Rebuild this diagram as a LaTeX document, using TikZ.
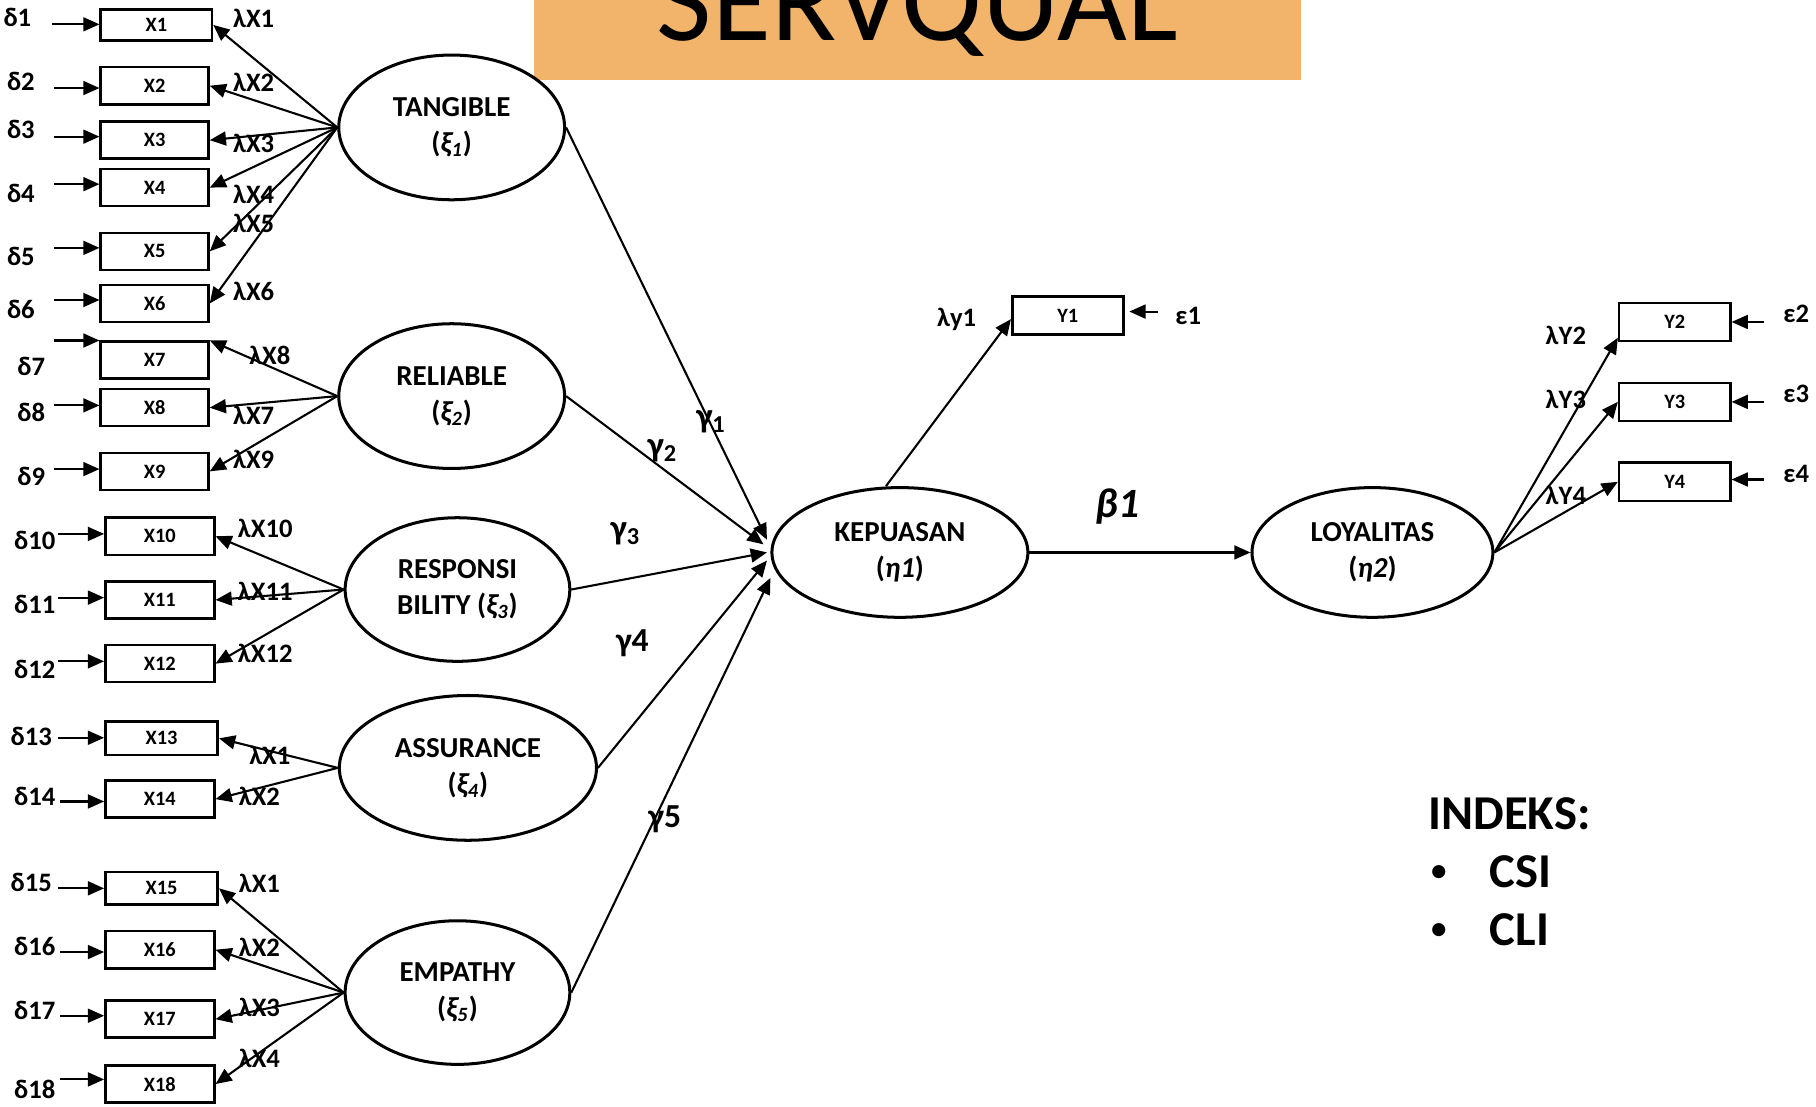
\documentclass[tikz,border=0pt]{standalone}
\usepackage{fontspec}
\setmainfont{Carlito}
\usetikzlibrary{shapes.geometric,arrows.meta,calc}
\definecolor{banner}{RGB}{242,180,107}

\begin{document}
\begin{tikzpicture}[x=0.5pt,y=-0.5pt,
  obs/.style={draw,line width=1.1pt,minimum width=46.5pt,minimum height=16pt,inner sep=0pt,
              font=\fontsize{8.8}{9}\selectfont\bfseries},
  lat/.style={draw,ellipse,line width=1.3pt,inner sep=0pt,align=center,
              font=\fontsize{12.5}{15.5}\selectfont\bfseries},
  arr/.style={line width=0.9pt,-{Triangle[length=7pt,width=6pt]}},
  lbl/.style={inner sep=0pt,font=\fontsize{11.5}{13}\selectfont\bfseries},
  gam/.style={inner sep=0pt,font=\fontsize{15}{17}\selectfont\bfseries},
  gamb/.style={inner sep=0pt,font=\fontsize{14.5}{16}\selectfont\bfseries},
  idx/.style={inner sep=0pt,anchor=base west,font=\fontsize{21}{24}\selectfont\bfseries},
]
\useasboundingbox (0,0) rectangle (1568,955);
\clip (0,0) rectangle (1568,955);

% title banner
\fill[banner] (461,0) rectangle (1123,69);
\node[anchor=base,inner sep=0pt,font=\fontsize{52}{60}\selectfont] (title) at (792,35) {SERVQUAL};

% latent variables
\node[lat,minimum width=97.5pt,minimum height=62.5pt] (tang) at (390,110) {TANGIBLE\\({\itshape ξ\textsubscript{1}})};
\node[lat,minimum width=97.5pt,minimum height=62.5pt] (rel) at (390,342) {RELIABLE\\({\itshape ξ\textsubscript{2}})};
\node[lat,minimum width=97pt,minimum height=62pt] (resp) at (395,509) {RESPONSI\\BILITY ({\itshape ξ\textsubscript{3}})};
\node[lat,minimum width=111pt,minimum height=62.5pt] (assur) at (404,663) {ASSURANCE\\({\itshape ξ\textsubscript{4}})};
\node[lat,minimum width=97pt,minimum height=62pt] (emp) at (395,857) {EMPATHY\\({\itshape ξ\textsubscript{5}})};
\node[lat,minimum width=110.5pt,minimum height=56pt] (kep) at (777,477) {KEPUASAN\\({\itshape η1})};
\node[lat,minimum width=104pt,minimum height=56pt] (loy) at (1185,477) {LOYALITAS\\({\itshape η2})};

% indicators X
\node[obs,minimum width=48pt,minimum height=13.5pt] (x1) at (135,21.5) {X1};
\foreach \n/\y in {2/74,3/121,4/162,5/217,6/262,7/311,8/352,9/407}
  \node[obs] (x\n) at (133.5,\y) {X\n};
\foreach \n/\y in {10/463,11/518,12/573,14/690,16/820,17/880,18/936}
  \node[obs,minimum width=47pt] (x\n) at (138,\y) {X\n};
\node[obs,minimum width=48.5pt,minimum height=14.5pt] (x13) at (139.5,637.5) {X13};
\node[obs,minimum width=48.5pt,minimum height=14pt] (x15) at (139.5,767) {X15};

% indicators Y
\node[obs,minimum width=48pt,minimum height=16.5pt] (y1) at (922,272.5) {Y1};
\foreach \n/\y in {2/278,3/347,4/416}
  \node[obs,minimum width=48pt,minimum height=16.5pt] (y\n) at (1446,\y) {Y\n};

% measurement errors delta
\foreach \n/\lx/\ly/\ax/\ay in {1/15/15/45/21,2/18/70/47/76,3/18/112/47/118,4/18/167/47/159,
    5/18/221/47/214,6/18/267/47/259,7/27/316/47/294,8/27/356/47/350,9/27/411/47/405,
    10/30/467/50/461,11/30/522/50/516,12/30/578/50/571,13/27/636/50/637,14/30/688/52/692,
    15/27/762/50/767,16/30/817/52/822,17/30/872/52/877,18/30/941/52/932}{
  \node[lbl] (dl\n) at (\lx,\ly) {δ\n};
  \coordinate (d\n) at (\ax,\ay);
  \draw[arr] (d\n) -- (x\n.west |- d\n);
}

% measurement errors epsilon
\coordinate (e1) at (1000,269);
\draw[arr] (e1) -- ($(y1.east)+(4,-3.5)$);
\node[lbl] (el1) at (1026,273) {ε1};
\foreach \n/\y/\ly in {2/278/271,3/347/340,4/414/409}{
  \coordinate (e\n) at (1523,\y);
  \draw[arr] (e\n) -- (y\n.east |- e\n);
  \node[lbl] (el\n) at (1551,\ly) {ε\n};
}

% loadings
\foreach \n in {1,...,6} \draw[arr] (tang.west) -- (x\n.east);
\draw[arr] (rel.west) -- (x7.north east);
\draw[arr] (rel.west) -- (x8.east);
\draw[arr] (rel.west) -- (x9.east);
\foreach \n in {10,11,12} \draw[arr] (resp.west) -- (x\n.east);
\foreach \n in {13,14} \draw[arr] (assur.west) -- (x\n.east);
\foreach \n in {15,...,18} \draw[arr] (emp.west) -- (x\n.east);

\draw[arr] ($(kep.north)+(-12,0)$) -- ($(y1.west)+(0,3)$);
\draw[arr] (loy.east) -- ($(y2.south west)+(0,-4)$);
\draw[arr] (loy.east) -- (y3.west);
\draw[arr] (loy.east) -- (y4.west);

% structural paths
\draw[arr] (tang.east) -- ($(kep.west)+(-3,-11)$);
\draw[arr] (rel.east) -- ($(kep.west)+(-6,-7)$);
\draw[arr] (resp.east) -- ($(kep.west)+(-3,0)$);
\draw[arr] (assur.east) -- ($(kep.west)+(-3,7)$);
\draw[arr] (emp.east) -- ($(kep.west)+(0,22)$);
\draw[arr] (kep.east) -- (loy.west);

% loading labels
\foreach \n/\t/\x/\y in {1/λX1/219/16,2/λX2/219/71,3/λX3/219/124,4/λX4/219/168,5/λX5/219/193,
    6/λX6/219/252,7/λX8/233/307,8/λX7/219/359,9/λX9/219/397,10/λX10/229/456,11/λX11/229/511,
    12/λX12/229/564,13/λX1/233/652,14/λX2/224/688,15/λX1/224/763,16/λX2/224/818,
    17/λX3/224/870,18/λX4/224/914}
  \node[lbl] (l\n) at (\x,\y) {\t};
\node[lbl] (ly1) at (826,276) {λy1};
\node[lbl] (ly2) at (1352,290) {λY2};
\node[lbl] (ly3) at (1352,345) {λY3};
\node[lbl] (ly4) at (1352,428) {λY4};

% path coefficients
\node[gam] (g1) at (614,364) {γ\textsubscript{1}};
\node[gam] (g2) at (572,389) {γ\textsubscript{2}};
\node[gam] (g3) at (540,461) {γ\textsubscript{3}};
\node[gamb] (g4) at (546,555) {γ4};
\node[gamb] (g5) at (574,707) {γ5};
\node[inner sep=0pt,font=\fontsize{18}{20}\selectfont\bfseries\itshape] (b1) at (965,437) {β1};

% index list
\node[idx] (indeks) at (1233,716) {INDEKS:};
\node[idx,font=\fontsize{16}{20}\selectfont] (bul1) at (1234,762) {•};
\node[idx] (csi) at (1286,766) {CSI};
\node[idx,font=\fontsize{16}{20}\selectfont] (bul2) at (1234,812) {•};
\node[idx] (cli) at (1286,816) {CLI};
\end{tikzpicture}
\end{document}
